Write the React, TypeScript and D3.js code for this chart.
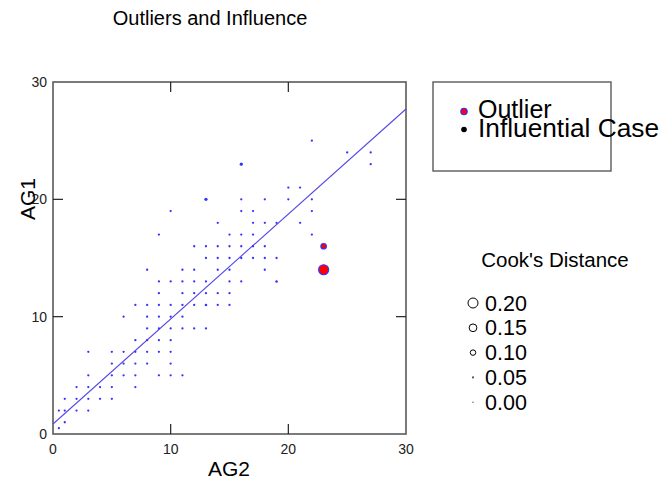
import React from "react";
import * as d3 from "d3";

// Scatter of AG1 against AG2 with a fitted line; dot size follows Cook's distance.
const ag2Values: number[] = [
  0.5, 1, 0.5, 1, 2, 3, 1, 2, 3, 4, 5, 2, 3, 4, 5, 7,
  3, 5, 6, 7, 9, 10, 11, 5, 6, 7, 8, 10, 3, 5, 6, 7, 8, 9, 10,
  7, 8, 9, 10, 8, 9, 10, 11, 12, 13, 6, 8, 9, 10, 11,
  7, 8, 9, 10, 11, 12, 13, 14, 15, 9, 11, 12, 13, 14, 15,
  9, 10, 11, 12, 13, 15, 16, 19, 8, 11, 12, 14, 15, 18,
  13, 14, 15, 16, 17, 18, 19, 12, 13, 14, 15, 16, 17, 18,
  9, 15, 16, 17, 22, 14, 17, 18, 19, 21, 10, 16, 17, 22,
  13, 16, 18, 20, 22, 20, 21, 16, 27, 25, 27, 22,
];
const ag1Values: number[] = [
  0.5, 1, 2, 2, 2, 2, 3, 3, 3, 3, 3, 4, 4, 4, 4, 4,
  5, 5, 5, 5, 5, 5, 5, 6, 6, 6, 6, 6, 7, 7, 7, 7, 7, 7, 7,
  8, 8, 8, 8, 9, 9, 9, 9, 9, 9, 10, 10, 10, 10, 10,
  11, 11, 11, 11, 11, 11, 11, 11, 11, 12, 12, 12, 12, 12, 12,
  13, 13, 13, 13, 13, 13, 13, 13, 14, 14, 14, 14, 14, 14,
  15, 15, 15, 15, 15, 15, 15, 16, 16, 16, 16, 16, 16, 16,
  17, 17, 17, 17, 17, 18, 18, 18, 18, 18, 19, 19, 19, 19,
  20, 20, 20, 20, 20, 21, 21, 23, 23, 24, 24, 25,
];
// Cook's distance for the few cases that stand out; the rest are near zero.
const notableCases: { ag2: number; ag1: number; cook: number }[] = [
  { ag2: 13, ag1: 20, cook: 0.05 },
  { ag2: 16, ag1: 23, cook: 0.05 },
  { ag2: 19, ag1: 13, cook: 0.035 },
  { ag2: 13, ag1: 11, cook: 0.035 },
  { ag2: 10, ag1: 19, cook: 0.02 },
  { ag2: 22, ag1: 25, cook: 0.02 },
];
const outlierAg2: number[] = [23, 23];
const outlierAg1: number[] = [16, 14];
const outlierCook: number[] = [0.1, 0.2];

const fitIntercept = 0.85;
const fitSlope = 0.895;

const axisTicks: number[] = [0, 10, 20, 30];
const innerTicks: number[] = [10, 20];
const cookLegendValues: number[] = [0.2, 0.15, 0.1, 0.05, 0.0];

const W = 661;
const H = 485;
const FONT = "'Liberation Sans', Arial, sans-serif";

export default function App() {
  const x = d3.scaleLinear().domain([0, 30]).range([53, 406]);
  const y = d3.scaleLinear().domain([0, 30]).range([434, 82]);
  const r = d3.scaleLinear().domain([0, 0.2]).range([0.5, 5]);

  const cookOf = (a: number, b: number) => {
    const hit = notableCases.find((c) => c.ag2 === a && c.ag1 === b);
    return hit ? hit.cook : 0.005;
  };

  const points = ag2Values.map((v, i) => ({ ag2: v, ag1: ag1Values[i], cook: cookOf(v, ag1Values[i]) }));
  const outliers = outlierAg2.map((v, i) => ({ ag2: v, ag1: outlierAg1[i], cook: outlierCook[i] }));

  const fitLine = d3
    .line<number>()
    .x((d) => x(d))
    .y((d) => y(fitIntercept + fitSlope * d));

  const frame = "#5a5a5a";
  const blue = "#3434ff";

  return (
    <svg
      width={W}
      height={H}
      style={{ position: "absolute", left: 0, top: 0, background: "#fff" }}
      fontFamily={FONT}
    >
      <rect x={0} y={0} width={W} height={H} fill="#fff" />
      <text x={210} y={25} fontSize={20} textAnchor="middle" fill="#000">
        Outliers and Influence
      </text>

      {/* plot frame */}
      <rect
        x={x(0)}
        y={y(30)}
        width={x(30) - x(0)}
        height={y(0) - y(30)}
        fill="none"
        stroke={frame}
        strokeWidth={1.6}
      />
      {innerTicks.map((t) => (
        <g key={"t" + t} stroke="#222" strokeWidth={1.2}>
          <line x1={x(t)} x2={x(t)} y1={y(0)} y2={y(0) - 10} />
          <line x1={x(t)} x2={x(t)} y1={y(30)} y2={y(30) + 10} />
          <line x1={x(0)} x2={x(0) + 10} y1={y(t)} y2={y(t)} />
          <line x1={x(30)} x2={x(30) - 10} y1={y(t)} y2={y(t)} />
        </g>
      ))}
      {axisTicks.map((t) => (
        <text key={"yl" + t} x={47} y={y(t) + 5} fontSize={14} textAnchor="end" fill="#222">
          {t}
        </text>
      ))}
      {axisTicks.map((t) => (
        <text key={"xl" + t} x={x(t)} y={453.5} fontSize={14} textAnchor="middle" fill="#222">
          {t}
        </text>
      ))}
      <text x={229} y={476} fontSize={21} textAnchor="middle" fill="#000">
        AG2
      </text>
      <text
        transform={`translate(35,199) rotate(-90)`}
        fontSize={21}
        textAnchor="middle"
        fill="#000"
      >
        AG1
      </text>

      {/* fitted line */}
      <path d={fitLine([0, 30]) || ""} fill="none" stroke="#5548e6" strokeWidth={1.1} />

      {/* cases */}
      {points.map((p, i) => (
        <circle key={"p" + i} cx={x(p.ag2)} cy={y(p.ag1)} r={Math.max(1.15, r(p.cook))} fill={blue} />
      ))}
      {outliers.map((p, i) => (
        <circle
          key={"o" + i}
          cx={x(p.ag2)}
          cy={y(p.ag1)}
          r={r(p.cook)}
          fill="#ff0000"
          stroke={blue}
          strokeWidth={1.2}
        />
      ))}

      {/* case-type legend */}
      <rect x={433} y={82} width={178} height={89} fill="none" stroke={frame} strokeWidth={1.4} />
      <circle cx={464} cy={111.5} r={3.2} fill="#ff0000" stroke={blue} strokeWidth={1.2} />
      <text x={478} y={118} fontSize={25} fill="#000">
        Outlier
      </text>
      <circle cx={464} cy={129.5} r={2.8} fill="#000" />
      <text x={478} y={136.5} fontSize={25} fill="#000" textLength={181} lengthAdjust="spacingAndGlyphs">
        Influential Case
      </text>

      {/* Cook's distance size legend */}
      <text x={555} y={267} fontSize={20.5} textAnchor="middle" fill="#000">
        Cook's Distance
      </text>
      {cookLegendValues.map((v, i) => {
        const cy = 303 + i * 24.8;
        return (
          <g key={"c" + i}>
            {v > 0.06 ? (
              <circle cx={473} cy={cy} r={r(v)} fill="#fff" stroke="#000" strokeWidth={1} />
            ) : (
              <circle cx={473} cy={cy} r={v > 0 ? 1.1 : 0.7} fill="#555" />
            )}
            <text x={485} y={cy + 7.5} fontSize={21.5} fill="#000">
              {v.toFixed(2)}
            </text>
          </g>
        );
      })}
    </svg>
  );
}
